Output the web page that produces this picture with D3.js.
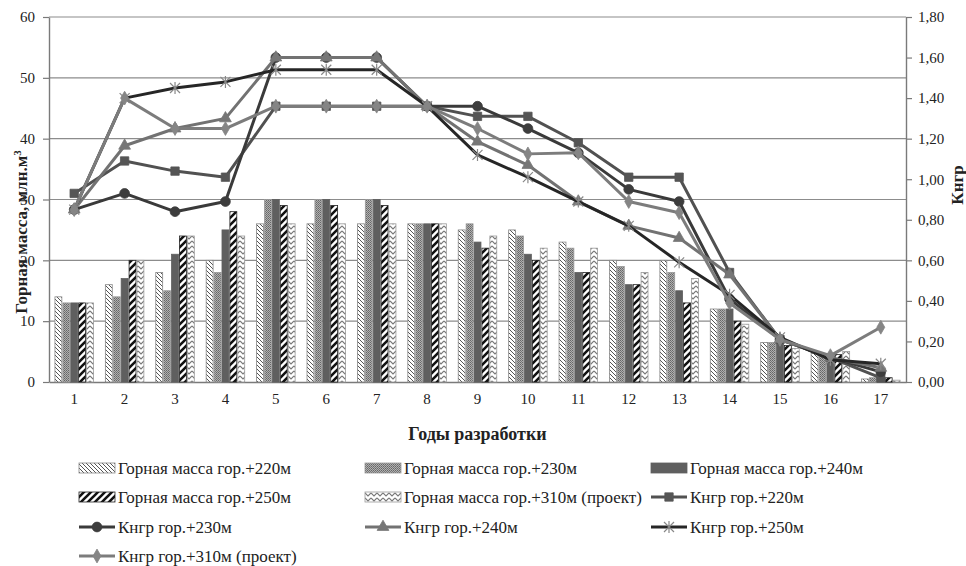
<html>
<head>
    <meta charset="utf-8">
    <script src="https://d3js.org/d3.v7.min.js"></script>
    <style>
        body { margin: 0; background: #fff; }
        svg text { font-family: "Liberation Serif", serif !important; fill: #222; }
    </style>
</head>

<body>
    <svg id="plot"></svg>

    <script>
        // categories (years of development)
        var years = ["1","2","3","4","5","6","7","8","9","10","11","12","13","14","15","16","17"];

        // rock mass, mln m3 (left axis)
        var mass220 = [14, 16, 18, 20, 26, 26, 26, 26, 25, 25, 23, 20, 20, 12, 6.5, 4.7, 0.5];
        var mass230 = [13, 14, 15, 18, 30, 30, 30, 26, 26, 24, 22, 19, 18, 12, 6.5, 4.5, 0.7];
        var mass240 = [13, 17, 21, 25, 30, 30, 30, 26, 23, 21, 18, 16, 15, 12, 6.5, 4.0, 1.0];
        var mass250 = [13, 20, 24, 28, 29, 29, 29, 26, 22, 20, 18, 16, 13, 10, 6.0, 4.5, 0.7];
        var mass310 = [13, 20, 24, 24, 26, 26, 26, 26, 24, 22, 22, 18, 17, 9.5, 5.5, 5.0, 0.3];

        // Кнгр (right axis)
        var k220 = [0.93, 1.09, 1.04, 1.01, 1.36, 1.36, 1.36, 1.36, 1.31, 1.31, 1.18, 1.01, 1.01, 0.54, 0.21, 0.12, 0.02];
        var k230 = [0.85, 0.93, 0.84, 0.89, 1.60, 1.60, 1.60, 1.36, 1.36, 1.25, 1.13, 0.95, 0.89, 0.41, 0.21, 0.12, 0.05];
        var k240 = [0.85, 1.165, 1.25, 1.30, 1.60, 1.60, 1.60, 1.36, 1.185, 1.07, 0.89, 0.77, 0.71, 0.53, 0.21, 0.12, 0.07];
        var k250 = [0.85, 1.40, 1.45, 1.48, 1.54, 1.54, 1.54, 1.36, 1.12, 1.01, 0.89, 0.77, 0.59, 0.43, 0.22, 0.11, 0.09];
        var k310 = [0.85, 1.40, 1.25, 1.25, 1.36, 1.36, 1.36, 1.36, 1.25, 1.125, 1.13, 0.89, 0.835, 0.39, 0.21, 0.13, 0.27];

        var leftTicks = [0, 10, 20, 30, 40, 50, 60];
        var rightTicks = [0, 0.2, 0.4, 0.6, 0.8, 1.0, 1.2, 1.4, 1.6, 1.8];

        var barNames = ["Горная масса гор.+220м", "Горная масса гор.+230м", "Горная масса гор.+240м",
                        "Горная масса гор.+250м", "Горная масса гор.+310м (проект)"];
        var lineNames = ["Кнгр гор.+220м", "Кнгр гор.+230м", "Кнгр гор.+240м",
                         "Кнгр гор.+250м", "Кнгр гор.+310м (проект)"];

        var SizeX = 966, SizeY = 566;
        var Plot = { left: 49, right: 906, top: 17, bottom: 382 };
        var FONT = "'Liberation Serif', serif";

        var svg = d3.select("#plot")
            .attr("width", SizeX)
            .attr("height", SizeY);

        // ---- patterns for the bars
        var defs = svg.append("defs");

        var p1 = defs.append("pattern").attr("id", "p220")
            .attr("patternUnits", "userSpaceOnUse").attr("width", 4).attr("height", 4);
        p1.append("rect").attr("width", 4).attr("height", 4).attr("fill", "#fff");
        p1.append("path").attr("d", "M-1,-1 L5,5 M-1,3 L1,5 M3,-1 L5,1")
            .attr("stroke", "#555").attr("stroke-width", 1);

        var p2 = defs.append("pattern").attr("id", "p230")
            .attr("patternUnits", "userSpaceOnUse").attr("width", 2).attr("height", 2);
        p2.append("rect").attr("width", 2).attr("height", 2).attr("fill", "#b0b0b0");
        p2.append("rect").attr("width", 1).attr("height", 1).attr("fill", "#666");
        p2.append("rect").attr("x", 1).attr("y", 1).attr("width", 1).attr("height", 1).attr("fill", "#777");

        var p4 = defs.append("pattern").attr("id", "p250")
            .attr("patternUnits", "userSpaceOnUse").attr("width", 7).attr("height", 7);
        p4.append("rect").attr("width", 7).attr("height", 7).attr("fill", "#fff");
        p4.append("path").attr("d", "M-1,8 L8,-1 M-4,4 L4,-4 M3,11 L11,3")
            .attr("stroke", "#111").attr("stroke-width", 2.6);

        var p5 = defs.append("pattern").attr("id", "p310")
            .attr("patternUnits", "userSpaceOnUse").attr("width", 6).attr("height", 5);
        p5.append("rect").attr("width", 6).attr("height", 5).attr("fill", "#fff");
        p5.append("path").attr("d", "M0,1 L3,4 L6,1")
            .attr("fill", "none").attr("stroke", "#777").attr("stroke-width", 1.1);

        var barFill = ["url(#p220)", "url(#p230)", "#5f5f5f", "url(#p250)", "url(#p310)"];
        var barStroke = ["#888", "#999", "#5f5f5f", "#222", "#999"];

        // ---- scales
        var x0 = d3.scaleBand()
            .domain(years)
            .range([Plot.left, Plot.right])
            .paddingInner(0.216)
            .paddingOuter(0.108);

        var x1 = d3.scaleBand()
            .domain(d3.range(5))
            .range([0, x0.bandwidth()]);

        var yL = d3.scaleLinear().domain([0, 60]).range([Plot.bottom, Plot.top]);
        var yR = d3.scaleLinear().domain([0, 1.8]).range([Plot.bottom, Plot.top]);

        // ---- gridlines
        svg.append("g")
            .selectAll("line")
            .data(leftTicks.slice(1))
            .enter().append("line")
                .attr("x1", Plot.left).attr("x2", Plot.right)
                .attr("y1", function(d){ return yL(d); })
                .attr("y2", function(d){ return yL(d); })
                .attr("stroke", "#8c8c8c").attr("stroke-width", 1.2);

        // ---- axes
        var leftAxis = svg.append("g")
            .attr("transform", "translate(" + Plot.left + " 0)")
            .call(d3.axisLeft(yL).tickValues(leftTicks).tickSize(6).tickSizeOuter(0).tickPadding(8));

        var rightAxis = svg.append("g")
            .attr("transform", "translate(" + Plot.right + " 0)")
            .call(d3.axisRight(yR).tickValues(rightTicks).tickSize(6).tickSizeOuter(0).tickPadding(6)
                .tickFormat(function(d){ return d3.format(".2f")(d).replace(".", ","); }));

        var bottomAxis = svg.append("g")
            .attr("transform", "translate(0 " + Plot.bottom + ")")
            .call(d3.axisBottom(x0).tickSize(0).tickPadding(11));

        [leftAxis, rightAxis, bottomAxis].forEach(function(g){
            g.attr("font-family", FONT);
            g.selectAll(".domain").attr("stroke", "#7a7a7a").attr("stroke-width", 1.4);
            g.selectAll(".tick line").attr("stroke", "#7a7a7a").attr("stroke-width", 1.2);
            g.selectAll("text")
                .style("font-family", FONT)
                .style("font-size", "15px")
                .attr("fill", "#333");
        });

        // ---- bars
        var barSeries = [mass220, mass230, mass240, mass250, mass310];

        barSeries.forEach(function(values, s){
            svg.append("g")
                .selectAll("rect")
                .data(values)
                .enter().append("rect")
                    .attr("x", function(d, i){ return x0(years[i]) + x1(s) + 0.5; })
                    .attr("y", function(d){ return yL(d); })
                    .attr("width", x1.bandwidth() - 1)
                    .attr("height", function(d){ return yL(0) - yL(d); })
                    .attr("fill", barFill[s])
                    .attr("stroke", barStroke[s])
                    .attr("stroke-width", 0.8);
        });

        // ---- lines
        var lineSeries = [k220, k230, k240, k250, k310];
        var lineColor = ["#515151", "#3a3a3a", "#727272", "#262626", "#7c7c7c"];
        var markColor = ["#555", "#3d3d3d", "#767676", "#888", "#858585"];
        var markShape = ["square", "circle", "triangle", "star", "diamond"];

        function markerPath(shape){
            if (shape == "square")   return d3.symbol().type(d3.symbolSquare).size(70)();
            if (shape == "circle")   return d3.symbol().type(d3.symbolCircle).size(75)();
            if (shape == "triangle") return d3.symbol().type(d3.symbolTriangle).size(60)();
            if (shape == "diamond")  return d3.symbol().type(d3.symbolDiamond).size(55)();
            return "M-5,-5L5,5M-5,5L5,-5M0,-6L0,6";
        }

        function drawMarker(g, shape, fill){
            var p = g.append("path").attr("d", markerPath(shape));
            if (shape == "star") {
                p.attr("fill", "none").attr("stroke", fill).attr("stroke-width", 1.2);
            } else {
                p.attr("fill", fill).attr("stroke", fill).attr("stroke-width", 0.8);
            }
            return p;
        }

        var cx = function(i){ return x0(years[i]) + x0.bandwidth() / 2; };

        lineSeries.forEach(function(values, s){
            var line = d3.line()
                .x(function(d, i){ return cx(i); })
                .y(function(d){ return yR(d); });

            svg.append("path")
                .datum(values)
                .attr("d", line)
                .attr("fill", "none")
                .attr("stroke", lineColor[s])
                .attr("stroke-width", 3)
                .attr("stroke-linejoin", "round");

            var mg = svg.append("g");
            values.forEach(function(d, i){
                var g = mg.append("g").attr("transform", "translate(" + cx(i) + " " + yR(d) + ")");
                drawMarker(g, markShape[s], markColor[s]);
            });
        });

        // ---- axis titles
        svg.append("text")
            .attr("transform", "translate(27 232) rotate(-90)")
            .attr("text-anchor", "middle")
            .style("font-family", FONT)
            .style("font-size", "17px").style("font-weight", "bold")
            .html("Горная масса, млн.м<tspan dy='-6' style='font-size:11px'>3</tspan>");

        svg.append("text")
            .attr("transform", "translate(963 185) rotate(-90)")
            .attr("text-anchor", "middle")
            .style("font-family", FONT)
            .style("font-size", "17px").style("font-weight", "bold")
            .text("Кнгр");

        svg.append("text")
            .attr("x", (Plot.left + Plot.right) / 2).attr("y", 440)
            .attr("text-anchor", "middle")
            .style("font-family", FONT)
            .style("font-size", "18px").style("font-weight", "bold")
            .text("Годы разработки");

        // ---- legend
        var legendItems = [];
        barNames.forEach(function(n, s){ legendItems.push({ name: n, type: "bar", s: s }); });
        lineNames.forEach(function(n, s){ legendItems.push({ name: n, type: "line", s: s }); });

        var colX = [79, 365, 651];
        var rowY = [468, 497, 527, 556];

        legendItems.forEach(function(item, k){
            var g = svg.append("g")
                .attr("transform", "translate(" + colX[k % 3] + " " + rowY[Math.floor(k / 3)] + ")");
            if (item.type == "bar") {
                g.append("rect")
                    .attr("x", 0).attr("y", -5).attr("width", 36).attr("height", 10)
                    .attr("fill", barFill[item.s])
                    .attr("stroke", barStroke[item.s]).attr("stroke-width", 0.8);
            } else {
                g.append("line")
                    .attr("x1", 0).attr("x2", 36).attr("y1", 0).attr("y2", 0)
                    .attr("stroke", lineColor[item.s]).attr("stroke-width", 3);
                var m = g.append("g").attr("transform", "translate(18 0)");
                drawMarker(m, markShape[item.s], markColor[item.s]);
            }
            g.append("text")
                .attr("x", 39).attr("y", 5.5)
                .style("font-family", FONT)
                .style("font-size", "17px")
                .text(item.name);
        });
    </script>
</body>
</html>
